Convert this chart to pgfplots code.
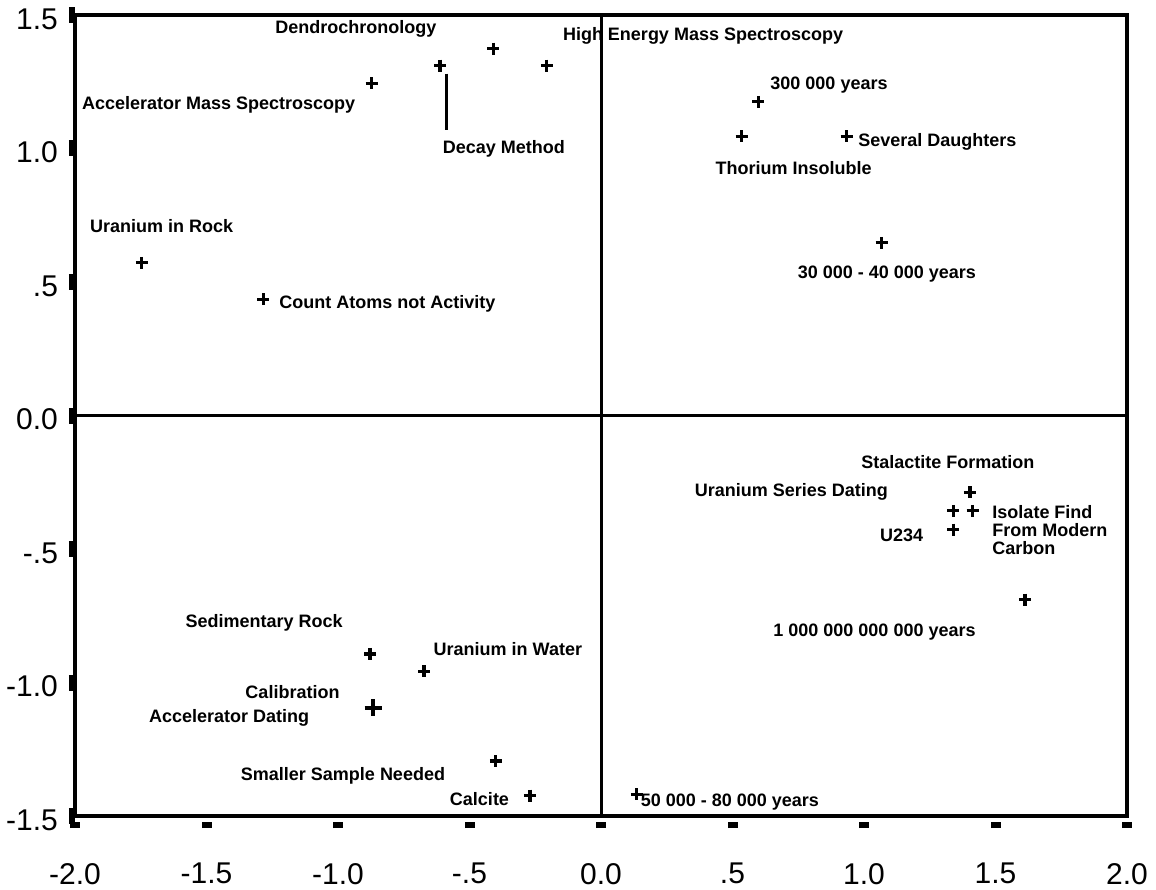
\documentclass[border=0pt]{standalone}
\usepackage{fontspec}
\setmainfont{Liberation Sans}
\usepackage{pgfplots}
\pgfplotsset{compat=1.18}
\tikzset{lbl/.style={font=\bfseries\fontsize{9}{9}\selectfont, inner sep=0pt}}
\begin{document}
\begin{tikzpicture}
\useasboundingbox (-37.5pt,-36.5pt) rectangle (540.5pt,408pt);
\begin{axis}[
  at={(0pt,0pt)}, anchor=south west,
  scale only axis, width=526pt, height=400.5pt,
  xmin=-2, xmax=2, ymin=-1.5, ymax=1.5,
  clip=false,
  axis line style={line width=1.6pt},
  tick pos=left, tick align=outside,
  major tick length=3pt,
  xtick={-2,-1.5,-1,-0.5,0,0.5,1,1.5,2},
  xticklabels={-2.0,-1.5,-1.0,-.5,0.0,.5,1.0,1.5,2.0},
  ytick={-1.5,-1,-0.5,0,0.5,1,1.5},
  yticklabels={-1.5,-1.0,-.5,0.0,.5,1.0,1.5},
  xtick style={black, line width=5pt, yshift=-3pt},
  ytick style={black, line width=8pt},
  xticklabel style={font=\fontsize{15}{15}\selectfont, yshift=-17pt},
  yticklabel style={font=\fontsize{15}{15}\selectfont, xshift=-2pt, yshift=-2pt},
]
% labels
\node[lbl] at (axis cs:-0.932,1.448) {Dendrochronology};
\node[lbl] at (axis cs:-1.454,1.164) {Accelerator Mass Spectroscopy};
\node[lbl] at (axis cs:0.388,1.422) {High Energy Mass Spectroscopy};
\node[lbl] at (axis cs:-0.369,1.0) {Decay Method};
\node[lbl] at (axis cs:0.867,1.239) {300 000 years};
\node[lbl] at (axis cs:1.279,1.026) {Several Daughters};
\node[lbl] at (axis cs:0.732,0.925) {Thorium Insoluble};
\node[lbl] at (axis cs:1.087,0.530) {30 000 - 40 000 years};
\node[lbl] at (axis cs:-1.671,0.709) {Uranium in Rock};
\node[lbl] at (axis cs:-0.812,0.418) {Count Atoms not Activity};
\node[lbl] at (axis cs:1.319,-0.175) {Stalactite Formation};
\node[lbl] at (axis cs:0.724,-0.287) {Uranium Series Dating};
\node[lbl] at (axis cs:1.143,-0.448) {U234};
\node[lbl, anchor=west, align=left] at (axis cs:1.487,-0.429) {Isolate Find\\From Modern\\Carbon};
\node[lbl] at (axis cs:1.04,-0.813) {1 000 000 000 000 years};
\node[lbl] at (axis cs:-1.281,-0.776) {Sedimentary Rock};
\node[lbl] at (axis cs:-0.354,-0.873) {Uranium in Water};
\node[lbl] at (axis cs:-1.173,-1.037) {Calibration};
\node[lbl] at (axis cs:-1.414,-1.131) {Accelerator Dating};
\node[lbl] at (axis cs:-0.981,-1.351) {Smaller Sample Needed};
\node[lbl] at (axis cs:-0.462,-1.437) {Calcite};
\node[lbl] at (axis cs:0.490,-1.448) {50 000 - 80 000 years};
% points
\addplot[only marks, mark=+, mark size=3pt, line width=1.6pt] coordinates {
  (-0.872,1.244) (-0.612,1.31) (-0.41,1.374) (-0.206,1.31)
  (0.598,1.175) (0.535,1.045) (0.934,1.045) (1.067,0.647)
  (-1.746,0.572) (-1.284,0.435)
  (1.403,-0.287) (1.34,-0.357) (1.413,-0.357) (1.34,-0.427) (1.612,-0.69)
  (-0.878,-0.893) (-0.673,-0.958) (-0.400,-1.294) (-0.27,-1.424) (0.136,-1.418)
};
\addplot[only marks, mark=+, mark size=4.3pt, line width=2.1pt] coordinates {(-0.866,-1.094)};
% leader line for Decay Method
\addplot[line width=1.5pt, no marks] coordinates {(-0.586,1.28) (-0.586,1.07)};
% zero lines
\addplot[line width=1.5pt, no marks] coordinates {(0,-1.5) (0,1.5)};
\addplot[line width=1.5pt, no marks] coordinates {(-2,0) (2,0)};
\end{axis}
\end{tikzpicture}
\end{document}
